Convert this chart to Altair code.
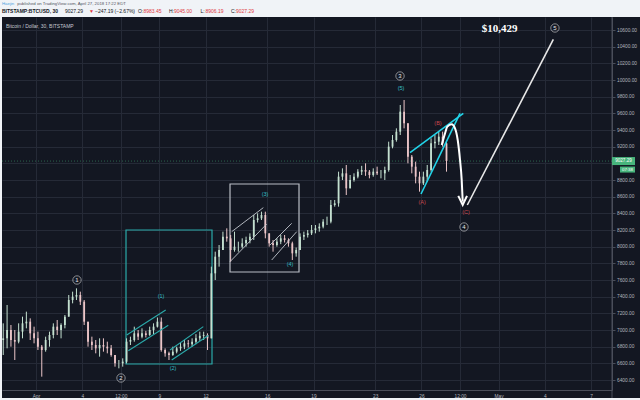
import altair as alt
import pandas as pd

# ---------------- data ----------------
# 6-hour candles; time axis in days where 1 = 1 April 2018 (31 = 1 May)
T_START = -1.125
T_STEP = 0.25
FIRST_OPEN = 6880
HIGH = [7080, 7300, 7060, 7000, 7080, 7160, 7220, 7140, 7040, 6980,
        6820, 6920, 6980, 7080, 7120, 7080, 7180, 7420, 7460, 7500,
        7460, 7360, 7100, 6920, 6880, 6900, 6900, 6860, 6820, 6700,
        6640, 6660, 6900, 6920, 7040, 7000, 7020, 6990, 7040, 7080,
        7150, 7150, 6780, 6740, 6800, 6800, 6850, 6880, 6880, 6900,
        6950, 6980, 6980, 6960, 7760, 7940, 8020, 8180, 8220, 8140,
        8180, 8060, 8100, 8120, 8160, 8380, 8400, 8420, 8420, 8160,
        8080, 8100, 8140, 8140, 8100, 8060, 7990, 8160, 8180, 8200,
        8260, 8260, 8280, 8330, 8360, 8560, 8560, 8900, 8940, 8980,
        8860, 8880, 8930, 8970, 9000, 8920, 8940, 8960, 8920, 8960,
        9260, 9340, 9420, 9700, 9760, 9480, 9100, 9020, 8900, 8900,
        8980, 9300, 9340, 9380, 9380, 9260]
LOW = [6700, 6780, 6800, 6640, 6840, 6900, 7020, 6880, 6840, 6760,
       6440, 6740, 6800, 6900, 6940, 6900, 7020, 7160, 7320, 7360,
       7300, 7060, 6800, 6760, 6720, 6680, 6740, 6720, 6680, 6560,
       6540, 6560, 6600, 6820, 6860, 6880, 6900, 6910, 6930, 6950,
       7030, 6740, 6680, 6640, 6690, 6720, 6750, 6770, 6790, 6800,
       6830, 6870, 6880, 6760, 6900, 7600, 7760, 7960, 8060, 7820,
       7940, 7940, 7980, 8000, 8040, 8080, 8290, 8320, 8100, 8000,
       7940, 8000, 8030, 8050, 8000, 7840, 7880, 7960, 8080, 8110,
       8140, 8160, 8180, 8220, 8260, 8280, 8480, 8480, 8800, 8620,
       8700, 8780, 8820, 8860, 8850, 8820, 8840, 8860, 8820, 8800,
       8900, 9180, 9260, 9340, 9420, 9000, 8880, 8760, 8660, 8740,
       8780, 8900, 9180, 9220, 9200, 8900]
CLOSE = [6900, 7000, 6880, 6860, 6980, 7080, 7100, 6960, 6900, 6800,
         6760, 6880, 6940, 7040, 7000, 7060, 7160, 7360, 7400, 7420,
         7340, 7100, 6860, 6820, 6780, 6820, 6800, 6780, 6700, 6600,
         6600, 6620, 6860, 6880, 6960, 6920, 6960, 6940, 7000, 7040,
         7100, 6760, 6720, 6700, 6740, 6780, 6800, 6840, 6830, 6860,
         6900, 6930, 6940, 6900, 7680, 7880, 7960, 8120, 8100, 7960,
         8000, 8000, 8040, 8080, 8120, 8320, 8340, 8380, 8160, 8040,
         8020, 8060, 8100, 8080, 8040, 7920, 7960, 8120, 8140, 8160,
         8200, 8220, 8240, 8300, 8300, 8500, 8520, 8840, 8880, 8700,
         8800, 8840, 8900, 8920, 8900, 8860, 8900, 8880, 8880, 8920,
         9200, 9280, 9380, 9620, 9480, 9080, 8960, 8840, 8760, 8840,
         8920, 9240, 9260, 9320, 9240, 9027.29]

LAST_PRICE = 9027.29
COUNTDOWN = "07:38"

Y_TICKS = list(range(6400, 10601, 200))
HIDDEN_Y_LABEL = 9000   # covered by the last-price tag in the picture
X_TICK_VALUES = [1, 4, 6.5, 9, 12, 16, 19, 23, 26, 28.5, 31, 34, 37]
X_TICK_LABELS = ["Apr", "4", "12:00", "9", "12", "16", "19", "23", "26",
                 "12:00", "May", "4", "7"]
X_DOMAIN = [-1.205, 38.36]
Y_DOMAIN = [6280, 10756]

# rectangles (wave boxes)
BOX_X0 = [6.838, 13.584]
BOX_X1 = [12.416, 18.059]
BOX_Y0 = [6592, 7696]
BOX_Y1 = [8200, 8752]
BOX_COLOR = ["#2aa9a9", "#b9bdc5"]

# straight annotation segments
SEG_X0 = [6.883, 6.987, 9.692, 9.802, 13.584, 13.694, 16.288, 16.178, 25.259, 25.973, 28.976]
SEG_Y0 = [6940, 6752, 6760, 6640, 7820, 8180, 7840, 8020, 9128, 8632, 8500]
SEG_X1 = [9.413, 9.581, 11.852, 12.176, 15.964, 15.744, 17.910, 17.586, 28.716, 28.503, 34.555]
SEG_Y1 = [7240, 7056, 7040, 6934, 8272, 8468, 8180, 8280, 9600, 9600, 10488]
SEG_COLOR = ["#2aa9a9"] * 4 + ["#c3c7cf"] * 4 + ["#22d3e8"] * 2 + ["#e8e8e8"]
SEG_WIDTH = [1.1] * 4 + [0.9] * 4 + [1.6] * 2 + [1.6]

# curved white arrow
CURVE_X = [27.316, 27.530, 27.679, 27.964, 28.178, 28.353, 28.502, 28.612, 28.677]
CURVE_Y = [9220, 9360, 9440, 9468, 9420, 9280, 9040, 8800, 8540]
HEAD_X = [28.39, 28.677, 28.955]
HEAD_Y = [8610, 8500, 8610]

# circled wave numbers
CIRCLE_TEXT = ["1", "2", "3", "4", "5"]
CIRCLE_X = [3.659, 6.513, 24.61, 28.76, 34.66]
CIRCLE_Y = [7600, 6424, 10048, 8236, 10624]

# bracketed wave labels
WAVE_TEXT = ["(1)", "(2)", "(3)", "(4)", "(5)", "(A)", "(B)", "(C)"]
WAVE_X = [9.108, 9.886, 15.854, 17.475, 24.675, 26.04, 27.075, 28.89]
WAVE_Y = [7408, 6544, 8632, 7792, 9904, 8536, 9484, 8416]
WAVE_COLOR = ["#35bfc6"] * 5 + ["#c8474d"] * 3

TARGET_TEXT = "$10,429"
TARGET_X = 31.07
TARGET_Y = 10612

# header texts
HEAD1_TEXT = ["Haejin", "published on TradingView.com, April 27, 2018 17:22 EDT"]
HEAD2_BOLD = "BITSTAMP:BTCUSD, 30"
HEAD2_TEXT = ["9027.29", "\u25BC", "\u2212247.19 (\u22122.67%)", "O:", "8983.45", "H:", "9045.00",
              "L:", "8906.19", "C:", "9027.29"]

# ---------------- styling ----------------
BG = "#131722"
GRID = "#252a37"
FRAME = "#4a4e5a"
LABEL = "#b2b5be"
FONT = "Liberation Sans"
UP_BODY, DOWN_BODY = "#5cb38b", "#dc7880"
UP_WICK, DOWN_WICK = "#c4e0d0", "#ecc6c9"
PAGE = "#f0f3f7"
RED = "#e0393e"
DARK = "#131722"

W, H = 610, 373

# ---------------- tables ----------------
opens = [FIRST_OPEN] + CLOSE[:-1]
candles = pd.DataFrame({
    "t": [T_START + i * T_STEP for i in range(len(CLOSE))],
    "open": opens, "high": HIGH, "low": LOW, "close": CLOSE,
})
candles["dir"] = ["up" if c >= o else "down" for o, c in zip(opens, CLOSE)]

boxes = pd.DataFrame({"x0": BOX_X0, "x1": BOX_X1, "y0": BOX_Y0, "y1": BOX_Y1, "c": BOX_COLOR})
segs = pd.DataFrame({"x0": SEG_X0, "y0": SEG_Y0, "x1": SEG_X1, "y1": SEG_Y1,
                     "c": SEG_COLOR, "w": SEG_WIDTH})
curve = pd.DataFrame({"x": CURVE_X, "y": CURVE_Y})
head = pd.DataFrame({"x": HEAD_X, "y": HEAD_Y})
circles = pd.DataFrame({"x": CIRCLE_X, "y": CIRCLE_Y, "txt": CIRCLE_TEXT})
waves = pd.DataFrame({"x": WAVE_X, "y": WAVE_Y, "txt": WAVE_TEXT, "c": WAVE_COLOR})
target = pd.DataFrame({"x": [TARGET_X], "y": [TARGET_Y], "txt": [TARGET_TEXT]})
tag = pd.DataFrame({"p": [LAST_PRICE], "p0": [LAST_PRICE - 48], "p1": [LAST_PRICE + 48],
                    "txt": [f"{LAST_PRICE:.2f}"]})
tag2 = pd.DataFrame({"p": [LAST_PRICE - 102], "p0": [LAST_PRICE - 138], "p1": [LAST_PRICE - 66],
                     "txt": [COUNTDOWN]})
one = pd.DataFrame({"k": [0]})

HEAD1 = pd.DataFrame({"px": [0, 15.3], "py": [-13, -13], "txt": HEAD1_TEXT,
                      "c": ["#4aa3df", "#50535e"]})
HEAD2 = pd.DataFrame({
    "px": [63, 87, 93, 136, 141.5, 167, 172, 198.5, 203.5, 229, 234],
    "py": [-5.7] * 11,
    "txt": HEAD2_TEXT,
    "c": [DARK, RED, DARK, DARK, RED, DARK, RED, DARK, RED, DARK, RED],
})
HEAD2B = pd.DataFrame({"px": [0], "py": [-5.7], "txt": [HEAD2_BOLD]})

# ---------------- scales / axes ----------------
label_expr = "{" + ",".join(f"'{v}':'{l}'" for v, l in zip(X_TICK_VALUES, X_TICK_LABELS)) + "}[datum.value]"
y_label_expr = f"datum.value == {HIDDEN_Y_LABEL} ? '' : format(datum.value, '.2f')"
xs = alt.Scale(domain=X_DOMAIN, nice=False, zero=False)
ys = alt.Scale(domain=Y_DOMAIN, nice=False, zero=False)
x_axis = alt.Axis(values=X_TICK_VALUES, labelExpr=label_expr, title=None, grid=True,
                  gridColor=GRID, gridWidth=1, domainColor=FRAME, tickSize=0,
                  labelColor=LABEL, labelFontSize=4.8, labelFont=FONT, labelPadding=3,
                  labelFlush=False, labelOverlap=False)
y_axis = alt.Axis(values=Y_TICKS, labelExpr=y_label_expr, orient="right", title=None, grid=True,
                  gridColor=GRID, gridWidth=1, domainColor=FRAME, tickColor=FRAME, tickSize=3,
                  labelColor=LABEL, labelFontSize=4.8, labelFont=FONT, labelPadding=1.5,
                  labelFlush=False, labelOverlap=False)


def ex(f):
    return alt.X(f, type="quantitative", scale=xs, axis=x_axis)


def ey(f):
    return alt.Y(f, type="quantitative", scale=ys, axis=y_axis)


dir_scale_body = alt.Scale(domain=["up", "down"], range=[UP_BODY, DOWN_BODY])
dir_scale_wick = alt.Scale(domain=["up", "down"], range=[UP_WICK, DOWN_WICK])

layers = []

# page frame (light header strip, left edge and bottom edge)
layers.append(alt.Chart(one).mark_rect(color=PAGE).encode(
    x=alt.value(-2), x2=alt.value(W + 28), y=alt.value(-17), y2=alt.value(0)))
layers.append(alt.Chart(one).mark_rect(color=PAGE).encode(
    x=alt.value(-2), x2=alt.value(0), y=alt.value(-17), y2=alt.value(H + 10)))
layers.append(alt.Chart(one).mark_rect(color=PAGE).encode(
    x=alt.value(-2), x2=alt.value(W + 28), y=alt.value(H + 8), y2=alt.value(H + 10)))
layers.append(alt.Chart(one).mark_rule(color=FRAME, strokeWidth=1).encode(
    x=alt.value(W), x2=alt.value(W), y=alt.value(0), y2=alt.value(H + 8)))

# dotted last-price line
layers.append(alt.Chart(tag).mark_rule(color="#47b57c", strokeDash=[1, 2], strokeWidth=0.8, opacity=0.6).encode(
    y=ey("p"), x=alt.value(0), x2=alt.value(W)))

# boxes
layers.append(alt.Chart(boxes).mark_rect(fillOpacity=0, strokeWidth=1.2).encode(
    x=ex("x0"), x2="x1", y=ey("y0"), y2="y1",
    stroke=alt.Stroke("c:N", scale=None)))

# candles
layers.append(alt.Chart(candles).mark_rule(strokeWidth=1.0).encode(
    x=ex("t"), y=ey("low"), y2="high",
    color=alt.Color("dir:N", scale=dir_scale_wick, legend=None)))
layers.append(alt.Chart(candles).mark_rule(strokeWidth=1.8).encode(
    x=ex("t"), y=ey("open"), y2="close",
    color=alt.Color("dir:N", scale=dir_scale_body, legend=None)))

# straight segments
layers.append(alt.Chart(segs).mark_rule().encode(
    x=ex("x0"), x2="x1", y=ey("y0"), y2="y1",
    color=alt.Color("c:N", scale=None),
    strokeWidth=alt.StrokeWidth("w:Q", scale=None)))

# curved arrow
layers.append(alt.Chart(curve).mark_line(color="#ffffff", strokeWidth=2, interpolate="monotone").encode(
    x=ex("x"), y=ey("y")))
layers.append(alt.Chart(head).mark_line(color="#ffffff", strokeWidth=2).encode(
    x=ex("x"), y=ey("y")))

# circled numbers
layers.append(alt.Chart(circles).mark_point(shape="circle", filled=False, size=70,
                                            color="#e6e6e6", strokeWidth=0.8).encode(
    x=ex("x"), y=ey("y")))
layers.append(alt.Chart(circles).mark_text(fontSize=6, font=FONT, color="#e6e6e6",
                                           baseline="middle", align="center").encode(
    x=ex("x"), y=ey("y"), text="txt:N"))

# wave labels
layers.append(alt.Chart(waves).mark_text(fontSize=5.5, font=FONT, baseline="middle", align="center").encode(
    x=ex("x"), y=ey("y"), text="txt:N", color=alt.Color("c:N", scale=None)))

# target text
layers.append(alt.Chart(target).mark_text(fontSize=11, font="Liberation Serif", fontWeight="bold",
                                          color="#ffffff", baseline="middle", align="center").encode(
    x=ex("x"), y=ey("y"), text="txt:N"))

# chart title inside plot
layers.append(alt.Chart(one).mark_text(fontSize=5, font=FONT, color="#c5c8d0", align="left",
                                       baseline="middle").encode(
    x=alt.value(4), y=alt.value(8.7), text=alt.value("Bitcoin / Dollar, 30, BITSTAMP")))

# price tags on the scale
layers.append(alt.Chart(tag).mark_rect(color="#47b57c").encode(
    x=alt.value(W), x2=alt.value(W + 23), y=ey("p0"), y2="p1"))
layers.append(alt.Chart(tag).mark_text(fontSize=4.6, font=FONT, color="#ffffff", align="center",
                                       baseline="middle").encode(
    x=alt.value(W + 11.5), y=ey("p"), text="txt:N"))
layers.append(alt.Chart(tag2).mark_rect(color="#47b57c").encode(
    x=alt.value(W + 8), x2=alt.value(W + 23), y=ey("p0"), y2="p1"))
layers.append(alt.Chart(tag2).mark_text(fontSize=4.4, font=FONT, color="#ffffff", align="center",
                                        baseline="middle").encode(
    x=alt.value(W + 15.5), y=ey("p"), text="txt:N"))

# header texts
layers.append(alt.Chart(HEAD1).mark_text(fontSize=4.3, font=FONT, align="left", baseline="middle").encode(
    x=alt.X("px:Q", scale=None), y=alt.Y("py:Q", scale=None), text="txt:N",
    color=alt.Color("c:N", scale=None)))
layers.append(alt.Chart(HEAD2).mark_text(fontSize=5, font=FONT, align="left", baseline="middle").encode(
    x=alt.X("px:Q", scale=None), y=alt.Y("py:Q", scale=None), text="txt:N",
    color=alt.Color("c:N", scale=None)))
layers.append(alt.Chart(HEAD2B).mark_text(fontSize=5, font=FONT, fontWeight="bold", color=DARK,
                                          align="left", baseline="middle").encode(
    x=alt.X("px:Q", scale=None), y=alt.Y("py:Q", scale=None), text="txt:N"))

chart = alt.layer(*layers).properties(
    width=W, height=H,
    autosize=alt.AutoSizeParams(type="none"),
    padding={"left": 2, "top": 17, "right": 28, "bottom": 10},
    background=BG,
).configure_view(strokeOpacity=0, fill=BG)

chart.save("out.html", embed_options={"renderer": "svg", "actions": False})
